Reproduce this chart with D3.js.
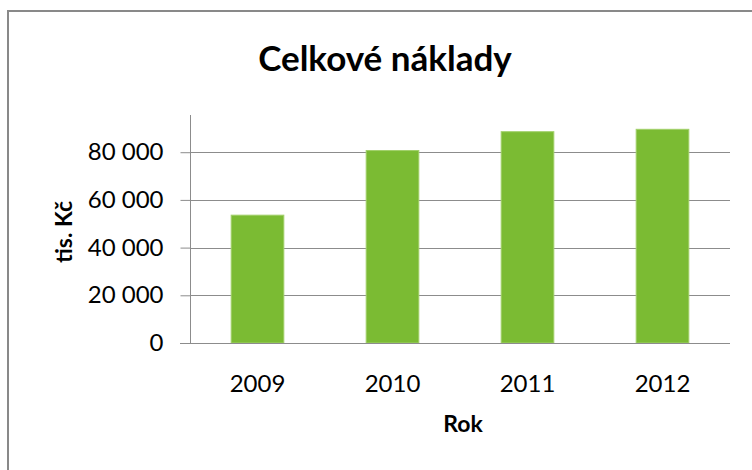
<!DOCTYPE html>
<html>
<head>
<meta charset="utf-8">
<script src="https://cdn.jsdelivr.net/npm/d3@7"></script>
<style>
  html, body { margin: 0; padding: 0; background: #fff; }
  svg { display: block; }
  text { font-family: Lato, "Open Sans", sans-serif; fill: #000; }
</style>
</head>
<body>
<svg id="chart" width="752" height="470"></svg>
<script>
const categories = ["2009", "2010", "2011", "2012"];
const values = [53600, 80700, 88600, 89600];
const yTicks = [0, 20000, 40000, 60000, 80000];
const yMax = 95600;
const title = "Celkové náklady";
const yTitle = "tis. Kč";
const xTitle = "Rok";

const svg = d3.select("#chart");
const W = 752, H = 470;
const plot = { left: 190, right: 730, top: 115, bottom: 343 };

// chart frame
svg.append("rect")
  .attr("x", 8).attr("y", 11)
  .attr("width", W + 10).attr("height", H + 10)
  .attr("fill", "#fff").attr("stroke", "#898989").attr("stroke-width", 2);

const x = d3.scaleBand().domain(categories).range([plot.left, plot.right]).paddingInner(0.61).paddingOuter(0.305);
const y = d3.scaleLinear().domain([0, yMax]).range([plot.bottom, plot.top]);

// gridlines
svg.append("g").selectAll("line").data(yTicks.filter(d => d > 0)).join("line")
  .attr("x1", plot.left).attr("x2", plot.right)
  .attr("y1", d => Math.round(y(d)) + 0.5).attr("y2", d => Math.round(y(d)) + 0.5)
  .attr("stroke", "#8c8c8c").attr("stroke-width", 1);

// bars
svg.append("g").selectAll("rect").data(categories).join("rect")
  .attr("x", d => x(d))
  .attr("y", (d, i) => y(values[i]))
  .attr("width", x.bandwidth())
  .attr("height", (d, i) => y(0) - y(values[i]))
  .attr("fill", "#7bbb33")
  .attr("stroke", "#a2d06a").attr("stroke-width", 1);

// y axis
const yAxis = d3.axisLeft(y).tickValues(yTicks).tickSize(10).tickPadding(17)
  .tickFormat(d => d3.format(",")(d).replace(/,/g, " "));
const gy = svg.append("g").attr("transform", `translate(${plot.left + 0.5},0)`).call(yAxis);
gy.select(".domain").attr("stroke", "#8c8c8c").attr("d", `M0,${plot.top}V${plot.bottom}`);
gy.selectAll(".tick line").attr("stroke", "#8c8c8c");
gy.selectAll(".tick text").style("font-size", "24px").attr("fill", "#222").style("font-family", "Lato, sans-serif");

// x axis
const xAxis = d3.axisBottom(x).tickSize(0).tickPadding(31);
const gx = svg.append("g").attr("transform", `translate(0,${Math.round(y(0)) + 0.5})`).call(xAxis);
gx.select(".domain").attr("stroke", "#8c8c8c").attr("d", `M${plot.left - 10},0H${plot.right}`);
gx.selectAll(".tick text").style("font-size", "24px").attr("fill", "#222").style("font-family", "Lato, sans-serif");

// titles
svg.append("text").attr("x", 385).attr("y", 71).attr("text-anchor", "middle")
  .style("font-size", "35px").style("font-weight", "bold").text(title);
svg.append("text").attr("x", 463).attr("y", 432).attr("text-anchor", "middle")
  .style("font-size", "23px").style("font-weight", "bold").text(xTitle);
svg.append("text").attr("transform", "translate(72,232) rotate(-90)").attr("text-anchor", "middle")
  .style("font-size", "23px").style("font-weight", "bold").text(yTitle);
</script>
</body>
</html>
